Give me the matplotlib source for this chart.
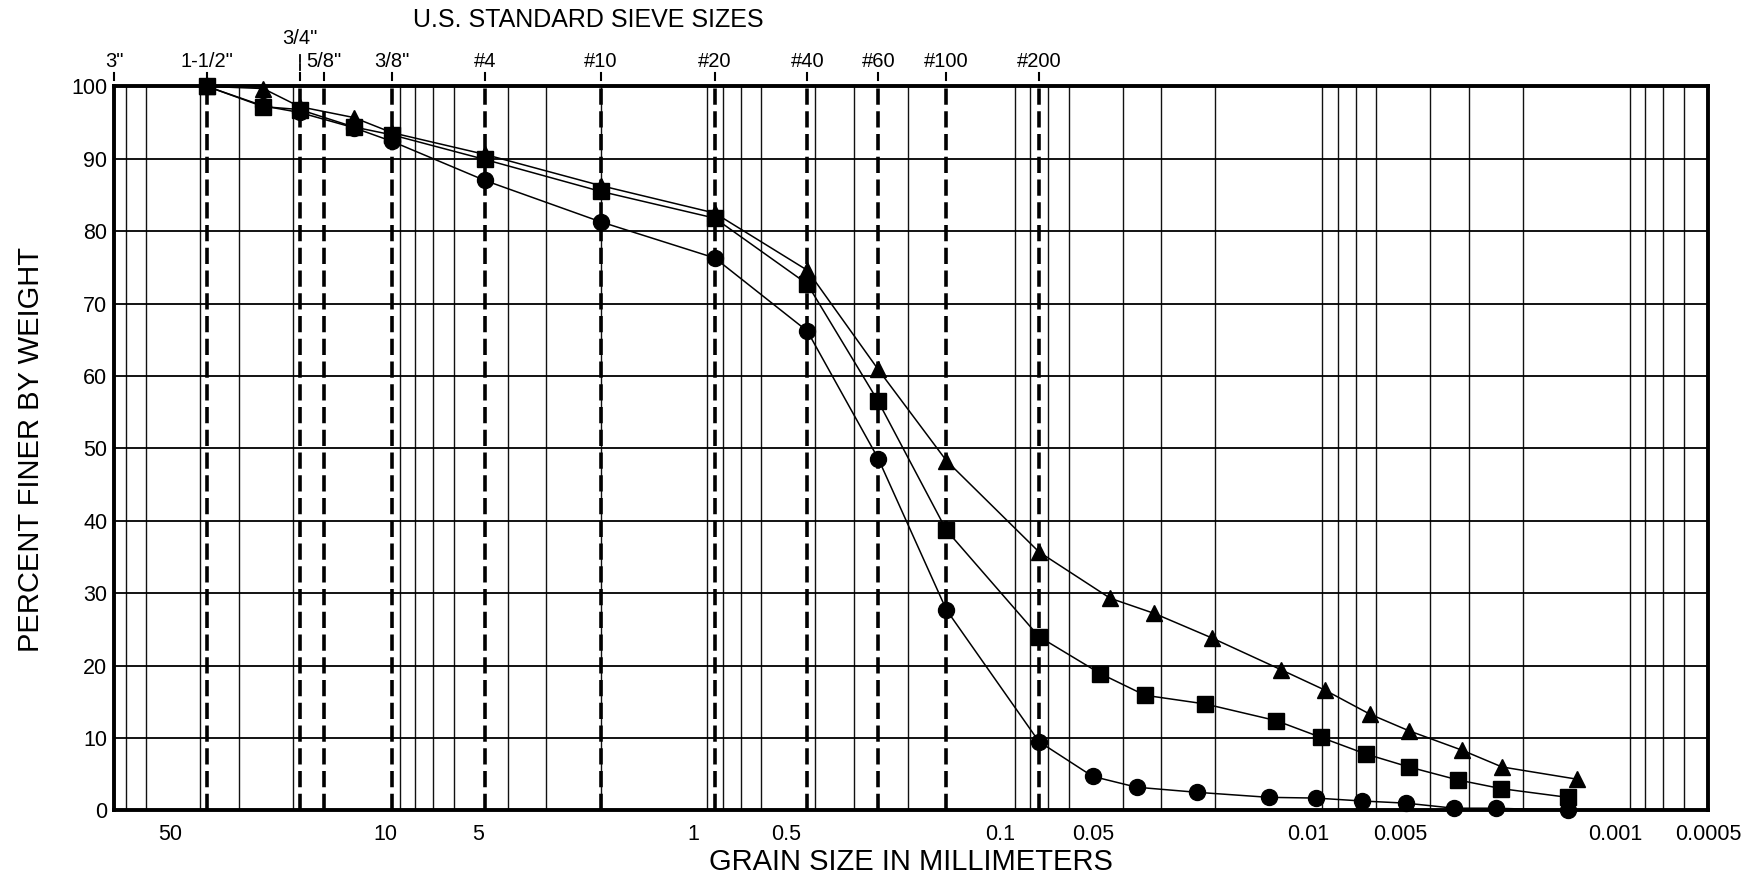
import matplotlib
matplotlib.use("Agg")
import matplotlib.pyplot as plt
import matplotlib.transforms as mtransforms
from matplotlib.ticker import FixedLocator, NullFormatter

plt.rcParams["font.family"] = ["Liberation Sans", "DejaVu Sans"]

# -------------------------
# Data
# -------------------------

# U.S. standard sieves (opening in mm)
sieve_labels = ['3"', '1-1/2"', '3/4"', '5/8"', '3/8"', "#4", "#10", "#20", "#40", "#60", "#100", "#200"]
sieve_mm = [76.2, 38.1, 19.05, 15.875, 9.525, 4.75, 2.0, 0.85, 0.425, 0.25, 0.15, 0.075]

# bottom axis labels
x_tick_vals = [50, 10, 5, 1, 0.5, 0.1, 0.05, 0.01, 0.005, 0.001, 0.0005]
x_tick_text = ["50", "10", "5", "1", "0.5", "0.1", "0.05", "0.01", "0.005", "0.001", "0.0005"]
y_ticks = [0, 10, 20, 30, 40, 50, 60, 70, 80, 90, 100]

# sample 1 (circles)
circle_mm = [38.1, 25.0, 19.05, 12.7, 9.525, 4.75, 2.0, 0.85, 0.425, 0.25, 0.15, 0.075,
             0.0502, 0.0361, 0.0230, 0.0134, 0.0094, 0.0067, 0.0048, 0.00335, 0.00245, 0.00143]
circle_pct = [100, 97.3, 96.4, 94.3, 92.4, 87.0, 81.3, 76.3, 66.2, 48.6, 27.7, 9.5,
              4.7, 3.2, 2.5, 1.8, 1.7, 1.3, 1.0, 0.3, 0.3, 0.0]

# sample 2 (squares)
square_mm = [38.1, 25.0, 19.05, 12.7, 9.525, 4.75, 2.0, 0.85, 0.425, 0.25, 0.15, 0.075,
             0.0474, 0.0339, 0.0216, 0.0127, 0.0091, 0.0065, 0.0047, 0.00325, 0.00235, 0.00143]
square_pct = [100, 97.2, 96.8, 94.4, 93.3, 89.9, 85.5, 81.8, 72.7, 56.5, 38.7, 24.0,
              18.9, 15.9, 14.7, 12.4, 10.1, 7.8, 6.0, 4.2, 3.0, 1.8]

# sample 3 (triangles)
triangle_mm = [38.1, 25.0, 19.05, 12.7, 9.525, 4.75, 2.0, 0.85, 0.425, 0.25, 0.15, 0.075,
               0.0440, 0.0316, 0.0205, 0.0122, 0.0088, 0.0063, 0.0047, 0.00315, 0.00234, 0.00133]
triangle_pct = [100, 99.7, 97.2, 95.7, 93.6, 90.6, 86.3, 82.5, 74.6, 60.9, 48.3, 35.7,
                29.3, 27.2, 23.8, 19.4, 16.6, 13.3, 11.0, 8.3, 6.0, 4.3]

# -------------------------
# Figure
# -------------------------

fig = plt.figure(figsize=(17.6, 8.76), dpi=100)
ax = fig.add_axes([0.065, 0.0749, 0.9055, 0.8265])

ax.set_xscale("log")
ax.set_xlim(76.2, 0.0005)
ax.set_ylim(0, 100)

# log grid lines 1..9 x 10^k
minor = [d * 10.0 ** k for k in range(-4, 2) for d in range(1, 10)]
minor = [m for m in minor if 0.0005 < m < 76.2]
ax.xaxis.set_minor_locator(FixedLocator(minor))
ax.xaxis.set_minor_formatter(NullFormatter())
ax.set_xticks(x_tick_vals)
ax.set_xticklabels(x_tick_text)
ax.set_yticks(y_ticks)
ax.set_yticklabels([str(v) for v in y_ticks])

ax.xaxis.grid(True, which="minor", color="#111111", lw=1.0)
ax.xaxis.grid(False, which="major")
ax.yaxis.grid(True, which="major", color="black", lw=1.3)
ax.set_axisbelow(True)

ax.tick_params(axis="both", which="both", length=0)
ax.tick_params(axis="x", labelsize=15.5, pad=10)
ax.tick_params(axis="y", labelsize=15.5, pad=5)

for s in ax.spines.values():
    s.set_linewidth(2.8)
    s.set_color("black")

# sieve lines
for mm in sieve_mm[1:]:
    ax.axvline(mm, color="black", lw=2.6, ls=(0, (4.5, 1.8)), zorder=1.5)

# sieve labels on top
trans = mtransforms.blended_transform_factory(ax.transData, ax.transAxes)
for lab, mm in zip(sieve_labels, sieve_mm):
    if lab == '3/4"':
        ax.text(mm, 1.066, lab, transform=trans, ha="center", va="center", fontsize=14.5)
        ax.plot([mm, mm], [1.022, 1.031], transform=trans, color="black", lw=1.3, clip_on=False)
        ax.plot([mm, mm], [1.034, 1.044], transform=trans, color="black", lw=1.3, clip_on=False)
    else:
        ax.text(mm, 1.034, lab, transform=trans, ha="center", va="center", fontsize=14.5)
    ax.plot([mm, mm], [1.009, 1.018], transform=trans, color="black", lw=1.5, clip_on=False)

fig.text(0.334, 0.977, "U.S. STANDARD SIEVE SIZES", ha="center", va="center", fontsize=18)

# curves
ax.plot(circle_mm, circle_pct, color="black", lw=1.1, marker="o", ms=11.5,
        clip_on=False, zorder=3)
ax.plot(triangle_mm, triangle_pct, color="black", lw=1.1, marker="^", ms=12,
        clip_on=False, zorder=3)
ax.plot(square_mm, square_pct, color="black", lw=1.1, marker="s", ms=11,
        clip_on=False, zorder=3)

fig.text(0.5177, 0.016, "GRAIN SIZE IN MILLIMETERS", ha="center", va="center", fontsize=21)
fig.text(0.0176, 0.4874, "PERCENT FINER BY WEIGHT", ha="center", va="center",
         rotation=90, fontsize=21)

fig.savefig("out.png", dpi=100)
plt.close(fig)
